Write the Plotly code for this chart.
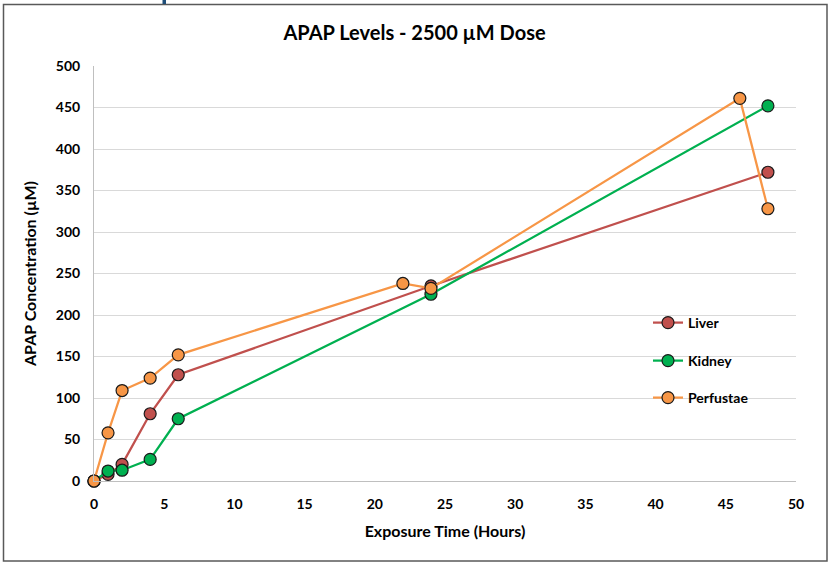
import plotly.graph_objects as go

# Exposure time (hours) and measured APAP concentration (µM) per tissue
liver_t = [0, 1, 2, 4, 6, 24, 48]
liver_c = [0, 8, 20, 81, 128, 235, 372]

kidney_t = [0, 1, 2, 4, 6, 24, 48]
kidney_c = [0, 12, 13, 26, 75, 225, 452]

perf_t = [0, 1, 2, 4, 6, 22, 24, 46, 48]
perf_c = [0, 58, 109, 124, 152, 238, 232, 461, 328]

series = [
    ("Liver", liver_t, liver_c, "#C0504D", "legend"),
    ("Kidney", kidney_t, kidney_c, "#00B050", "legend2"),
    ("Perfustae", perf_t, perf_c, "#F79646", "legend3"),
]

FONT = "Lato, Open Sans, Arial, sans-serif"

fig = go.Figure()
for name, t, c, color, lg in series:
    fig.add_trace(go.Scatter(
        x=t, y=c, name=name, mode="lines+markers",
        line=dict(color=color, width=2.25),
        marker=dict(size=12, color=color, line=dict(color="#1a1a1a", width=1.2)),
        cliponaxis=False, showlegend=True,
        legend=lg,
    ))

# plot area spans pixels 94..796 horizontally and 66..481 vertically
W, H = 829, 563
L, R, T, B = 94, 33, 66, 82
pw, ph = W - L - R, H - T - B

def px(xp):
    return (xp - L) / pw

def py(yp):
    return (H - B - yp) / ph

legend_style = dict(
    font=dict(family=FONT, size=14, color="#000000", weight="bold"),
    bgcolor="rgba(0,0,0,0)", xanchor="left", yanchor="middle",
    itemwidth=30,
)

tick_font = dict(family=FONT, size=14, color="#000000", weight="bold")

fig.update_layout(
    width=W, height=H,
    showlegend=True,
    margin=dict(l=L, r=R, t=T, b=B),
    paper_bgcolor="white", plot_bgcolor="white",
    title=dict(text="<b>APAP Levels - 2500 µM Dose</b>",
               font=dict(family=FONT, size=20, color="#000000"),
               x=0.5, xanchor="center", y=1 - 33 / H, yanchor="middle"),
    xaxis=dict(range=[0, 50], dtick=5, showgrid=False,
               showline=True, linecolor="#BFBFBF", linewidth=1,
               ticks="", zeroline=False, ticklabelstandoff=10,
               tickfont=tick_font,
               title=dict(text="<b>Exposure Time (Hours)</b>",
                          font=dict(family=FONT, size=16, color="#000000"),
                          standoff=15)),
    yaxis=dict(range=[0, 500], dtick=50, showgrid=True, gridcolor="#D9D9D9",
               gridwidth=1, showline=True, linecolor="#BFBFBF", linewidth=1,
               ticks="", zeroline=False, ticklabelstandoff=10,
               tickfont=tick_font,
               title=dict(text="<b>APAP Concentration (µM)</b>",
                          font=dict(family=FONT, size=16, color="#000000"),
                          standoff=15)),
    legend=dict(x=px(648), y=py(323), **legend_style),
    legend2=dict(x=px(648), y=py(361), **legend_style),
    legend3=dict(x=px(648), y=py(398), **legend_style),
    shapes=[
        # outer frame around the chart
        dict(type="rect", xref="paper", yref="paper",
             x0=px(3.5), x1=px(827), y0=py(561), y1=py(4.5),
             line=dict(color="#595959", width=1.5), fillcolor="rgba(0,0,0,0)",
             layer="below"),
        # small dark-blue mark above the frame
        dict(type="rect", xref="paper", yref="paper",
             x0=px(162.5), x1=px(166), y0=py(4), y1=py(0),
             line=dict(width=0), fillcolor="#1F4E79"),
    ],
)

fig.write_html("out.html")
